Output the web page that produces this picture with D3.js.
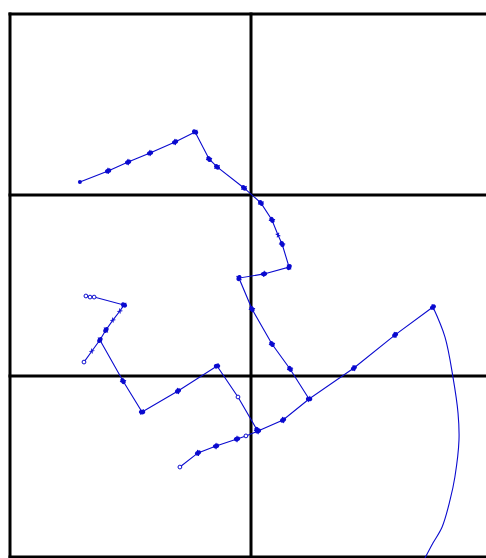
<!DOCTYPE html>
<html><head><meta charset="utf-8">
<script src="https://cdn.jsdelivr.net/npm/d3@7"></script>
<style>body{margin:0;background:#fff}svg{display:block}</style>
</head><body>
<script>
// grid ticks (data units)
const xGrid = [0, 1, 2];
const yGrid = [0, 1, 2, 3];

// Track 1 (x, y) and marker types: a=arrow, p=plus, o=open circle, d=dot, n=none
const track1X = [0.290,0.407,0.490,0.581,0.685,0.768,0.826,0.859,0.971,1.041,1.087,1.112,1.129,1.158,1.054,0.950,1.004,1.087,1.162,1.241,1.427,1.598,1.755];
const track1Y = [2.072,2.133,2.182,2.232,2.293,2.348,2.199,2.155,2.039,1.956,1.862,1.779,1.729,1.602,1.564,1.541,1.370,1.177,1.039,0.873,1.044,1.227,1.381];
const track1M = ["d","a","a","a","a","a","a","a","a","a","a","p","a","a","a","a","a","a","a","a","a","a","a"];

// smooth tail of track 1
const tailX = [1.755,1.805,1.838,1.859,1.863,1.846,1.826,1.793,1.755,1.722];
const tailY = [1.381,1.215,0.994,0.796,0.646,0.442,0.315,0.166,0.077,-0.006];

// Track 2
const track2X = [0.307,0.340,0.373,0.398,0.427,0.456,0.473,0.349,0.332,0.315];
const track2Y = [1.077,1.138,1.199,1.254,1.309,1.359,1.392,1.436,1.436,1.442];
const track2M = ["o","p","a","a","p","p","a","o","o","o"];

// Branch from track 2
const branchX = [0.373,0.469,0.548,0.697,0.859,0.946,1.025];
const branchY = [1.199,0.972,0.801,0.917,1.055,0.884,0.702];
const branchM = ["n","a","a","a","a","o","a"];

// Track 3
const track3X = [0.705,0.780,0.855,0.942,0.979,1.029,1.133,1.241];
const track3Y = [0.497,0.575,0.613,0.652,0.669,0.696,0.757,0.873];
const track3M = ["o","a","a","a","o","a","a","n"];

const W = 486, H = 558;
const blue = "#0a0acf";
const svg = d3.select("body").append("svg").attr("width", W).attr("height", H);
const x = d3.scaleLinear().domain([0, 2]).range([10, 492]);
const y = d3.scaleLinear().domain([0, 3]).range([557, 14]);

// grid / frame
const g = svg.append("g");
g.selectAll("line.v").data(xGrid).join("line")
  .attr("x1", d => x(d)).attr("x2", d => x(d)).attr("y1", y(0)+1.5).attr("y2", y(3)-1.5)
  .attr("stroke", "#000").attr("stroke-width", 3);
g.selectAll("line.h").data(yGrid).join("line")
  .attr("y1", d => y(d)).attr("y2", d => y(d)).attr("x1", x(0)-1.5).attr("x2", x(2)+1.5)
  .attr("stroke", "#000").attr("stroke-width", 3);

const line = d3.line().x(d => x(d[0])).y(d => y(d[1]));
function zipPts(xs, ys) { return xs.map((v, i) => [v, ys[i]]); }

function drawTrack(xs, ys, ms) {
  const pts = zipPts(xs, ys);
  svg.append("path").attr("d", line(pts)).attr("fill", "none")
    .attr("stroke", blue).attr("stroke-width", 1.1);
  pts.forEach((p, i) => {
    const m = ms[i];
    const px = x(p[0]), py = y(p[1]);
    const q = pts[Math.min(i + 1, pts.length - 1)], r = pts[Math.max(i - 1, 0)];
    let dx = x(q[0]) - x(r[0]), dy = y(q[1]) - y(r[1]);
    const ang = Math.atan2(dy, dx) * 180 / Math.PI;
    if (m === "a") {
      const gm = svg.append("g").attr("transform", `translate(${px},${py}) rotate(${ang})`);
      gm.append("ellipse").attr("rx", 3.2).attr("ry", 2.3).attr("fill", blue);
      gm.append("path").attr("d", "M1,-3L-1,3").attr("stroke", blue).attr("stroke-width", 1);
    } else if (m === "p") {
      svg.append("path").attr("d", "M-2.5,0L2.5,0M0,-2.5L0,2.5")
        .attr("transform", `translate(${px},${py}) rotate(${ang + 45})`)
        .attr("stroke", blue).attr("stroke-width", 1);
    } else if (m === "o") {
      svg.append("circle").attr("cx", px).attr("cy", py).attr("r", 1.9)
        .attr("fill", "#fff").attr("stroke", blue).attr("stroke-width", 1);
    } else if (m === "d") {
      svg.append("circle").attr("cx", px).attr("cy", py).attr("r", 2).attr("fill", blue);
    }
  });
}

drawTrack(track1X, track1Y, track1M);
svg.append("path").attr("d", d3.line().x(d => x(d[0])).y(d => y(d[1])).curve(d3.curveCatmullRom)(zipPts(tailX, tailY)))
  .attr("fill", "none").attr("stroke", blue).attr("stroke-width", 1.1);
drawTrack(track2X, track2Y, track2M);
drawTrack(branchX, branchY, branchM);
drawTrack(track3X, track3Y, track3M);
</script>
</body></html>
